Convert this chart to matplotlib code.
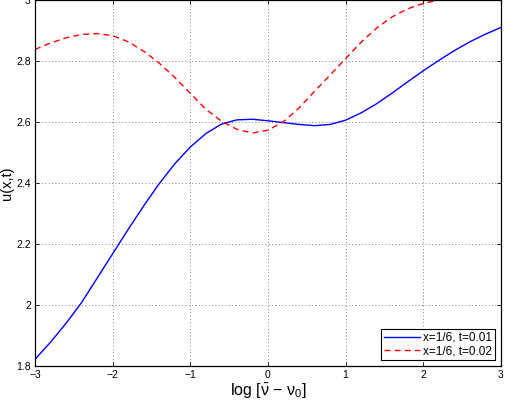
import numpy as np
import matplotlib
matplotlib.use("Agg")
import matplotlib.pyplot as plt

plt.rcParams['font.family'] = ['Liberation Sans', 'DejaVu Sans']
plt.rcParams['mathtext.fontset'] = 'custom'
plt.rcParams['mathtext.rm'] = 'Liberation Sans'
plt.rcParams['mathtext.it'] = 'Liberation Sans'

# x=1/6, t=0.01 (solid blue)
x_t001 = [-3.0, -2.8, -2.6, -2.4, -2.2, -2.0, -1.8, -1.6, -1.4, -1.2, -1.0, -0.8, -0.6, -0.4, -0.2,
          0.0, 0.2, 0.4, 0.6, 0.8, 1.0, 1.2, 1.4, 1.6, 1.8, 2.0, 2.2, 2.4, 2.6, 2.8, 3.0]
u_t001 = [1.822, 1.878, 1.94, 2.008, 2.088, 2.168, 2.248, 2.325, 2.398, 2.463, 2.518, 2.562, 2.593, 2.607, 2.609,
          2.604, 2.598, 2.592, 2.588, 2.592, 2.606, 2.63, 2.66, 2.695, 2.732, 2.768, 2.802, 2.834, 2.863, 2.888, 2.91]

# x=1/6, t=0.02 (dashed red)
x_t002 = [-3.0, -2.8, -2.6, -2.4, -2.2, -2.0, -1.8, -1.6, -1.4, -1.2, -1.0, -0.8, -0.6, -0.4, -0.2,
          0.0, 0.2, 0.4, 0.6, 0.8, 1.0, 1.2, 1.4, 1.6, 1.8, 2.0, 2.2, 2.4, 2.6, 2.8, 3.0]
u_t002 = [2.838, 2.859, 2.876, 2.887, 2.89, 2.883, 2.863, 2.832, 2.793, 2.746, 2.694, 2.642, 2.603, 2.576, 2.564,
          2.573, 2.601, 2.646, 2.701, 2.754, 2.808, 2.862, 2.908, 2.945, 2.971, 2.989, 3.0, 3.008, 3.015, 3.02, 3.025]

xticks = [-3, -2, -1, 0, 1, 2, 3]
yticks = [1.8, 2.0, 2.2, 2.4, 2.6, 2.8, 3.0]
ytick_labels = ['1.8', '2', '2.2', '2.4', '2.6', '2.8', '3']

fig = plt.figure(figsize=(5.05, 4.01), dpi=100)
ax = fig.add_axes([0.0693, 0.0873, 0.9227, 0.9127])

ax.plot(x_t001, u_t001, color='#0000ff', linewidth=1.0, label='x=1/6, t=0.01')
ax.plot(x_t002, u_t002, color='#ff0000', linewidth=1.0, linestyle=(0, (4.3, 3)), label='x=1/6, t=0.02')

ax.set_xlim(-3, 3)
ax.set_ylim(1.8, 3.0)
ax.set_xticks(xticks)
ax.set_xticklabels([str(t).replace('-', '\u2212') for t in xticks])
ax.set_yticks(yticks)
ax.set_yticklabels(ytick_labels)
ax.tick_params(direction='in', top=True, right=True, labelsize=7.5, length=3, width=0.6, pad=3)
ax.grid(True, linestyle=(0, (1, 3)), color='#555555', linewidth=0.6)
for s in ax.spines.values():
    s.set_linewidth(0.9)

ax.set_xlabel(r'log [$\bar{\nu}$ $-$ $\nu_0$]', fontsize=11.5, labelpad=1)
ax.set_ylabel('u(x,t)', fontsize=10.5)
ax.yaxis.set_label_coords(-0.045, 0.5)

leg = ax.legend(loc='lower right', fontsize=8.5, fancybox=False, framealpha=1,
                edgecolor='black', borderaxespad=0.5, handlelength=3.0,
                handletextpad=0.3, borderpad=0.25, labelspacing=0.1)
leg.get_frame().set_linewidth(0.8)

fig.savefig('out.png', dpi=100)
